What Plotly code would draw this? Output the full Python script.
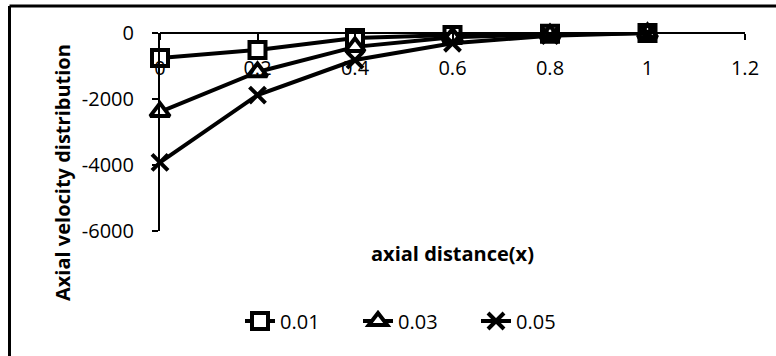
import plotly.graph_objects as go

x_vals = [0, 0.2, 0.4, 0.6, 0.8, 1.0]
s_001 = [-760, -515, -150, -60, -20, 0]
s_003 = [-2390, -1180, -420, -130, -40, 0]
s_005 = [-3920, -1880, -820, -310, -80, 0]
series_names = ["0.01", "0.03", "0.05"]
x_ticks = [0, 0.2, 0.4, 0.6, 0.8, 1.0, 1.2]
x_ticktext = ["0", "0.2", "0.4", "0.6", "0.8", "1", "1.2"]
y_ticks = [0, -2000, -4000, -6000]
y_ticktext = ["0", "-2000", "-4000", "-6000"]

W, H = 776, 356
FONT = "Open Sans"

fig = go.Figure()
styles = [
    dict(symbol="square", size=16),
    dict(symbol="triangle-up", size=17),
    dict(symbol="x-thin", size=16),
]
for name, ys, st in zip(series_names, [s_001, s_003, s_005], styles):
    fig.add_trace(go.Scatter(
        x=x_vals, y=ys, name=name, mode="lines+markers", cliponaxis=False,
        line=dict(color="black", width=4),
        marker=dict(symbol=st["symbol"], size=st["size"], color="white",
                    line=dict(color="black", width=4)),
    ))

px0, px1 = 160, 745
py_top, py_bot = 33, 231
fig.update_layout(
    width=W, height=H,
    margin=dict(l=0, r=0, t=0, b=0),
    paper_bgcolor="white", plot_bgcolor="white",
    font=dict(family=FONT, size=20, color="black"),
    showlegend=True,
    legend=dict(orientation="h", x=240 / W, xanchor="left", y=1 - 321 / H, yanchor="middle",
                entrywidth=73, entrywidthmode="pixels", font=dict(size=20),
                itemwidth=30),
    xaxis=dict(domain=[px0 / W, px1 / W], range=[0, 1.2], tickvals=x_ticks, ticktext=x_ticktext,
               showgrid=False, zeroline=False, showline=True, linecolor="black", linewidth=2,
               ticks="outside", ticklen=6, tickcolor="black", tickwidth=2, automargin=False,
               anchor="free", position=1 - py_top / H, side="bottom", ticklabelstandoff=11),
    yaxis=dict(domain=[1 - py_bot / H, 1 - py_top / H], range=[-6000, 0], tickvals=y_ticks,
               ticktext=y_ticktext, automargin=False,
               showgrid=False, zeroline=False, showline=True, linecolor="black", linewidth=2,
               ticks="outside", ticklen=6, tickcolor="black", tickwidth=2, ticklabelstandoff=14),
    annotations=[
        dict(text="<b>Axial velocity distribution</b>", x=62 / W, y=1 - 173 / H, xref="paper", yref="paper",
             textangle=-90, showarrow=False, font=dict(size=20, family=FONT), xanchor="center", yanchor="middle"),
        dict(text="<b>axial distance(x)</b>", x=452 / W, y=1 - 253 / H, xref="paper", yref="paper",
             showarrow=False, font=dict(size=20, family=FONT), xanchor="center", yanchor="middle"),
    ],
    shapes=[
        dict(type="line", xref="paper", yref="paper", x0=9.5 / W, x1=1.01, y0=1 - 6 / H, y1=1 - 6 / H,
             line=dict(color="black", width=3)),
        dict(type="line", xref="paper", yref="paper", x0=9.5 / W, x1=9.5 / W, y0=-0.01, y1=1 - 6 / H,
             line=dict(color="black", width=3)),
    ],
)

fig.write_html("out.html")
